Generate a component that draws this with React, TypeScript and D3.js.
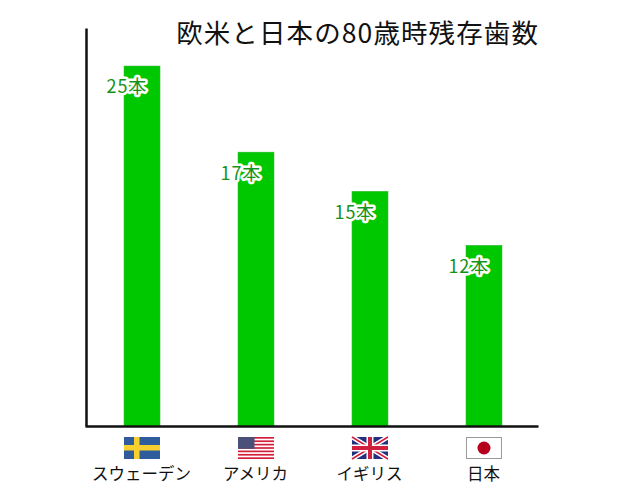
import * as d3 from 'd3'
import { useEffect, useRef } from 'react'

const title = '欧米と日本の80歳時残存歯数'
const countries = ['スウェーデン', 'アメリカ', 'イギリス', '日本']
const flags = ['se', 'us', 'uk', 'jp']
// bar lengths as drawn, they do not follow the printed numbers exactly
const barValues = [25, 19.02, 16.3, 12.55]
const barLabels = ['25本', '17本', '15本', '12本']

const width = 626
const height = 500
const font = '"Noto Sans CJK JP", sans-serif'

const drawFlag = (g: any, kind: string) => {
  const w = 36
  const h = 22
  if (kind === 'se') {
    g.append('rect').attr('width', w).attr('height', h).attr('fill', '#2f5d9b')
    g.append('rect').attr('x', 10).attr('width', 5.5).attr('height', h).attr('fill', '#f7cf2f')
    g.append('rect').attr('y', 8).attr('width', w).attr('height', 5.5).attr('fill', '#f7cf2f')
  }
  if (kind === 'us') {
    g.append('rect').attr('width', w).attr('height', h).attr('fill', '#fff')
    d3.range(0, 13, 2).forEach(i => {
      g.append('rect').attr('y', i * h / 13).attr('width', w).attr('height', h / 13).attr('fill', '#d3203a')
    })
    g.append('rect').attr('width', 16.5).attr('height', 11.8).attr('fill', '#4a5078')
  }
  if (kind === 'uk') {
    g.append('rect').attr('width', w).attr('height', h).attr('fill', '#24307e')
    g.append('path').attr('d', `M0,0L${w},${h}M${w},0L0,${h}`).attr('stroke', '#fff').attr('stroke-width', 4.5)
    g.append('path').attr('d', `M0,0L${w},${h}M${w},0L0,${h}`).attr('stroke', '#cf1f3d').attr('stroke-width', 1.5)
    g.append('path').attr('d', `M${w / 2},0V${h}M0,${h / 2}H${w}`).attr('stroke', '#fff').attr('stroke-width', 7)
    g.append('path').attr('d', `M${w / 2},0V${h}M0,${h / 2}H${w}`).attr('stroke', '#cf1f3d').attr('stroke-width', 4)
  }
  if (kind === 'jp') {
    g.append('rect').attr('x', 0.5).attr('y', 0.5).attr('width', w - 1).attr('height', h - 1)
      .attr('fill', '#fff').attr('stroke', '#999').attr('stroke-width', 1)
    g.append('circle').attr('cx', w / 2).attr('cy', h / 2).attr('r', 6.5).attr('fill', '#b5001e')
  }
}

export default function App() {
  const ref = useRef<SVGSVGElement>(null)

  useEffect(() => {
    const svg = d3.select(ref.current)
    svg.selectAll('*').remove()

    const x = d3.scaleBand()
      .domain(countries)
      .range([124, 502])
      .paddingInner(0.684)
      .paddingOuter(0)

    const y = d3.scaleLinear()
      .domain([0, 27.64])
      .range([426, 28])

    svg.selectAll('.bar')
      .data(barValues)
      .join('rect')
      .attr('class', 'bar')
      .attr('x', (d, i) => x(countries[i]) as number)
      .attr('y', d => y(d))
      .attr('width', x.bandwidth())
      .attr('height', d => y(0) - y(d))
      .attr('fill', '#00c800')
      .attr('stroke', '#3fb53f')
      .attr('stroke-width', 0.5)

    // axes, no ticks in this one
    const yAxis = svg.append('g')
      .attr('transform', 'translate(86,0)')
      .call(d3.axisLeft(y).tickValues([]).tickSizeOuter(0) as any)
    yAxis.select('.domain').attr('stroke', '#111').attr('stroke-width', 2.5)

    const xAxisScale = d3.scaleLinear().domain([0, 1]).range([85, 538])
    const xAxis = svg.append('g')
      .attr('transform', 'translate(0,426)')
      .call(d3.axisBottom(xAxisScale).tickValues([]).tickSizeOuter(0) as any)
    xAxis.select('.domain').attr('stroke', '#111').attr('stroke-width', 2.5)

    svg.selectAll('.bar-label')
      .data(barLabels)
      .join('text')
      .attr('class', 'bar-label')
      .attr('x', (d, i) => (x(countries[i]) as number) + 23)
      .attr('y', (d, i) => y(barValues[i]) + 21)
      .attr('dy', '0.36em')
      .attr('text-anchor', 'end')
      .attr('font-family', font)
      .attr('font-size', 18)
      .attr('letter-spacing', 0.8)
      .attr('fill', '#15921a')
      .attr('stroke', '#fff')
      .attr('stroke-width', 5)
      .attr('stroke-linejoin', 'round')
      .attr('paint-order', 'stroke')
      .text(d => d)

    flags.forEach((f, i) => {
      const g = svg.append('g').attr('transform', `translate(${x(countries[i])},437)`)
      drawFlag(g, f)
    })

    svg.selectAll('.country')
      .data(countries)
      .join('text')
      .attr('class', 'country')
      .attr('x', d => (x(d) as number) + x.bandwidth() / 2 - 0.5)
      .attr('y', 474)
      .attr('dy', '0.36em')
      .attr('text-anchor', 'middle')
      .attr('font-family', font)
      .attr('font-size', 16.5)
      .attr('fill', '#111')
      .text(d => d)

    svg.append('text')
      .attr('x', 539)
      .attr('y', 33)
      .attr('dy', '0.36em')
      .attr('text-anchor', 'end')
      .attr('font-family', font)
      .attr('font-size', 26.5)
      .attr('letter-spacing', 1.1)
      .attr('fill', '#111')
      .text(title)
  }, [])

  return <svg ref={ref} width={width} height={height} style={{ position: 'absolute', left: 0, top: 0, background: '#fff' }} />
}
